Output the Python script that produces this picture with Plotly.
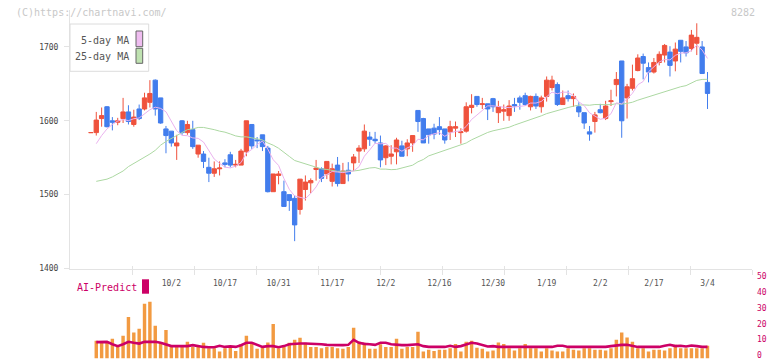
import plotly.graph_objects as go
import pandas as pd

# ---------------- data ----------------
opens = [1584, 1603, 1619, 1600, 1598, 1603, 1612, 1595, 1616, 1616,
         1625, 1655, 1631, 1589, 1586, 1566, 1600, 1584, 1588, 1555,
         1555, 1537, 1529, 1535, 1543, 1554, 1540, 1540, 1558, 1595,
         1574, 1581, 1563, 1504, 1526, 1504, 1500, 1495, 1480, 1507,
         1516, 1534, 1535, 1528, 1518, 1540, 1515, 1533, 1543, 1559,
         1562, 1578, 1575, 1570, 1550, 1552, 1558, 1566, 1562, 1570,
         1614, 1603, 1589, 1590, 1592, 1589, 1585, 1590, 1584, 1586,
         1618, 1633, 1622, 1623, 1630, 1611, 1613, 1607, 1622, 1631,
         1634, 1619, 1633, 1619, 1633, 1645, 1649, 1622, 1634, 1630,
         1619, 1611, 1585, 1599, 1615, 1603, 1626, 1649, 1681, 1631,
         1644, 1668, 1687, 1672, 1666, 1679, 1689, 1693, 1681, 1709,
         1700, 1698, 1705, 1700, 1652]
highs = [1612, 1618, 1620, 1605, 1604, 1631, 1621, 1615, 1622, 1638,
         1655, 1656, 1631, 1593, 1586, 1581, 1601, 1600, 1600, 1567,
         1559, 1550, 1545, 1545, 1548, 1558, 1547, 1562, 1600, 1595,
         1578, 1581, 1566, 1528, 1532, 1519, 1500, 1499, 1521, 1526,
         1522, 1547, 1537, 1545, 1542, 1551, 1543, 1544, 1555, 1567,
         1595, 1585, 1585, 1580, 1567, 1567, 1577, 1573, 1575, 1580,
         1614, 1604, 1589, 1596, 1605, 1589, 1600, 1599, 1590, 1625,
         1636, 1633, 1631, 1623, 1631, 1627, 1622, 1628, 1631, 1634,
         1638, 1634, 1637, 1634, 1660, 1661, 1652, 1641, 1641, 1637,
         1625, 1611, 1593, 1612, 1623, 1627, 1642, 1666, 1681, 1650,
         1676, 1690, 1691, 1679, 1685, 1694, 1704, 1701, 1706, 1709,
         1708, 1723, 1732, 1708, 1666]
lows = [1580, 1592, 1591, 1587, 1594, 1597, 1595, 1592, 1601, 1614,
        1618, 1607, 1596, 1556, 1565, 1547, 1581, 1581, 1562, 1550,
        1536, 1517, 1524, 1526, 1537, 1537, 1537, 1540, 1552, 1562,
        1563, 1559, 1503, 1504, 1514, 1484, 1478, 1437, 1473, 1492,
        1502, 1519, 1517, 1521, 1511, 1511, 1515, 1518, 1532, 1543,
        1558, 1566, 1569, 1537, 1540, 1541, 1541, 1552, 1552, 1558,
        1585, 1570, 1569, 1575, 1581, 1569, 1574, 1578, 1569, 1584,
        1610, 1619, 1616, 1601, 1612, 1597, 1600, 1600, 1612, 1615,
        1620, 1614, 1616, 1611, 1626, 1641, 1620, 1622, 1626, 1619,
        1605, 1589, 1573, 1584, 1610, 1601, 1620, 1633, 1577, 1603,
        1641, 1667, 1656, 1652, 1664, 1675, 1679, 1660, 1667, 1679,
        1687, 1694, 1689, 1664, 1616]
closes = [1601, 1607, 1592, 1598, 1600, 1612, 1599, 1605, 1603, 1631,
          1637, 1616, 1597, 1580, 1570, 1570, 1584, 1595, 1565, 1567,
          1545, 1529, 1535, 1536, 1541, 1540, 1541, 1559, 1600, 1566,
          1573, 1565, 1504, 1528, 1528, 1484, 1492, 1459, 1521, 1517,
          1519, 1536, 1522, 1545, 1535, 1515, 1532, 1528, 1551, 1563,
          1586, 1575, 1573, 1547, 1566, 1555, 1574, 1552, 1570, 1580,
          1599, 1570, 1581, 1582, 1588, 1574, 1592, 1592, 1585, 1619,
          1621, 1622, 1623, 1616, 1619, 1619, 1615, 1620, 1620, 1625,
          1622, 1633, 1620, 1631, 1655, 1655, 1622, 1631, 1630, 1633,
          1612, 1597, 1582, 1608, 1611, 1620, 1627, 1656, 1600, 1646,
          1657, 1685, 1678, 1666, 1679, 1690, 1702, 1675, 1697, 1694,
          1692, 1716, 1713, 1664, 1637]
# flat red tick drawn just left of the first candle
pre_tick = 1584

volume = [11.1, 10.5, 10, 12.4, 7.3, 14.3, 26.2, 16.4, 18.7, 34.4,
          35.7, 20.6, 10, 18, 7.3, 7.3, 7.3, 10.5, 7.3, 7.3,
          9.9, 6.5, 6.5, 4.4, 6.5, 7.3, 4.8, 9, 14.3, 10,
          6.1, 7.3, 10, 21.8, 6.5, 7.3, 9.9, 11.8, 13, 9.9,
          7.3, 7.3, 6.5, 7.3, 7.3, 6.5, 6.1, 7.3, 19.3, 10.5,
          9.9, 6.1, 6.1, 9, 7.3, 7.3, 12.4, 6.1, 7.3, 7.3,
          16.8, 4.4, 5.5, 4.8, 5.5, 5.5, 6.5, 9.2, 4.4, 10.5,
          11.1, 6.7, 6.1, 4.4, 5, 10, 9.2, 6.5, 5, 6.5,
          9.2, 6.5, 6.5, 4.4, 6.5, 5, 4.4, 4.4, 6.5, 5.5,
          5, 6.5, 6.5, 5.5, 5.5, 5, 6.5, 11.8, 16.4, 13.2,
          10.5, 6.5, 6.5, 4.4, 5.5, 5.5, 5, 6.5, 8.6, 6.5,
          6.5, 6.5, 6.5, 6.5, 8]
ai_predict = [10.3, 10.5, 10.5, 9, 7.8, 9, 10.5, 9.9, 9.4, 10.5,
              10.5, 10.5, 9.9, 9, 7.8, 7.8, 7.8, 7.8, 8.4, 7.8,
              7.3, 7.1, 7.1, 8, 7.3, 7.6, 7.3, 8.4, 9.9, 9.9,
              8.6, 7.3, 7.8, 7.8, 7.1, 7.8, 9, 9.4, 9.4, 9.4,
              9.4, 9.4, 9, 8.6, 8.4, 8.4, 8.4, 8.6, 11.8, 9.9,
              9.2, 9, 8.6, 9.9, 9.9, 9, 8.6, 8.4, 8.4, 8.8,
              9, 7.8, 7.3, 7.3, 7.3, 7.3, 8, 7.3, 7.8, 9,
              9.9, 9.4, 8.6, 7.6, 7.8, 7.3, 7.3, 7.3, 7.3, 7.3,
              7.3, 7.3, 7.3, 7.3, 7.3, 7.3, 8, 8, 7.3, 7.3,
              7.3, 7.3, 7.3, 7.3, 7.3, 7.3, 7.8, 8.4, 8.6, 8.6,
              8, 7.3, 7.3, 7.3, 7.3, 7.3, 8, 8.6, 7.8, 8,
              7.6, 8.2, 7.8, 7.3, 7.3]
# moving-average values before enough history is shown
ma5_lead = [1569, 1580, 1589, 1595]
ma25_lead = [1518, 1519, 1521, 1524, 1528, 1532, 1538, 1542, 1547, 1550,
             1555, 1560, 1567, 1572, 1576, 1581, 1585, 1588, 1589, 1591,
             1591, 1590, 1588, 1586]

tick_labels = ['10/2', '10/17', '10/31', '11/17', '12/2', '12/16',
               '12/30', '1/19', '2/2', '2/17', '3/4']
tick_index = [14, 24, 34, 44, 54, 64, 74, 84, 94, 104, 114]
price_ticks = [1400, 1500, 1600, 1700]
vol_ticks = [0, 10, 20, 30, 40, 50]

# ---------------- derived ----------------
n = len(closes)
xs = list(range(n))
s = pd.Series(closes, dtype=float)
ma5 = s.rolling(5).mean().tolist()
ma5[:len(ma5_lead)] = ma5_lead
ma25 = s.rolling(25).mean().tolist()
ma25[:len(ma25_lead)] = ma25_lead

RED = '#ef523d'
BLUE = '#427ded'
FONT = 'DejaVu Sans Mono'
W, H = 772, 361

up = [i for i in xs if closes[i] >= opens[i]]
dn = [i for i in xs if closes[i] < opens[i]]

fig = go.Figure()

fig.add_trace(go.Scatter(x=xs, y=ma25, mode='lines', line=dict(color='#acd8a2', width=1),
                         hoverinfo='skip', showlegend=False))
fig.add_trace(go.Scatter(x=xs, y=ma5, mode='lines', line=dict(color='#eab2ee', width=1),
                         hoverinfo='skip', showlegend=False))


def candle(idx, color):
    return go.Candlestick(
        x=idx,
        open=[opens[i] for i in idx],
        high=[highs[i] for i in idx],
        low=[lows[i] for i in idx],
        close=[closes[i] for i in idx],
        increasing=dict(line=dict(color=color, width=1), fillcolor=color),
        decreasing=dict(line=dict(color=color, width=1), fillcolor=color),
        whiskerwidth=0, showlegend=False, hoverinfo='skip')


fig.add_trace(candle(up, RED))
fig.add_trace(candle(dn, BLUE))
fig.add_trace(go.Candlestick(
    x=[-1], open=[pre_tick], high=[pre_tick], low=[pre_tick], close=[pre_tick],
    increasing=dict(line=dict(color=RED, width=1), fillcolor=RED),
    decreasing=dict(line=dict(color=RED, width=1), fillcolor=RED),
    whiskerwidth=0, showlegend=False, hoverinfo='skip'))

# volume panel
fig.add_trace(go.Bar(x=xs, y=volume, width=0.64, marker=dict(color='#f29a41', line=dict(width=0)),
                     xaxis='x2', yaxis='y2', hoverinfo='skip', showlegend=False))
fig.add_trace(go.Scatter(x=xs, y=ai_predict, mode='lines', line=dict(color='#cc0066', width=2.6),
                         xaxis='x2', yaxis='y2', hoverinfo='skip', showlegend=False))

# invisible helpers so the tick-mark overlay axes are drawn
for ax in ('x3', 'x4'):
    fig.add_trace(go.Scatter(x=[0], y=[1400], xaxis=ax, yaxis='y', mode='markers',
                             marker=dict(opacity=0), hoverinfo='skip', showlegend=False))

xdom = [70 / W, 752 / W]
xrange_ = [-4.9, 122.3]
axis_gray = '#e3e3e3'

fig.update_layout(
    width=W, height=H,
    margin=dict(l=0, r=0, t=0, b=0, autoexpand=False),
    paper_bgcolor='white', plot_bgcolor='white',
    boxgap=0.1, boxgroupgap=0.1,
    hovermode=False,
    xaxis=dict(domain=xdom, range=xrange_, anchor='y', automargin=False,
               tickvals=tick_index, ticktext=tick_labels, ticks='',
               tickfont=dict(family=FONT, size=8, color='#555'),
               ticklabelstandoff=7,
               showline=True, linecolor=axis_gray, linewidth=1,
               showgrid=False, zeroline=False, rangeslider=dict(visible=False)),
    xaxis3=dict(overlaying='x', anchor='y', range=[0, 11], tickvals=list(range(1, 12)),
                automargin=False,
                ticks='outside', ticklen=5, tickcolor=axis_gray, tickwidth=1,
                showticklabels=False, showline=False, showgrid=False, zeroline=False),
    xaxis4=dict(overlaying='x', anchor='y', range=[0, 11], tickvals=list(range(1, 12)),
                automargin=False,
                ticks='inside', ticklen=3, tickcolor=axis_gray, tickwidth=1,
                showticklabels=False, showline=False, showgrid=False, zeroline=False),
    yaxis=dict(domain=[1 - 268.5 / H, 1 - 10 / H], range=[1400, 1750], anchor='x',
               automargin=False,
               tickvals=price_ticks, ticks='outside', ticklen=5, tickcolor=axis_gray,
               tickfont=dict(family=FONT, size=8, color='#444'), ticklabelstandoff=4,
               showline=True, linecolor=axis_gray, linewidth=1,
               showgrid=False, zeroline=False),
    xaxis2=dict(domain=xdom, matches='x', anchor='y2', visible=False, automargin=False),
    yaxis2=dict(domain=[1 - 358.5 / H, 1 - 279.1 / H], range=[0, 50], anchor='x2', side='right',
                automargin=False, ticklabeloverflow='allow', ticklabelshift=-3,
                tickvals=vol_ticks, ticks='', showline=False, showgrid=False, zeroline=False,
                tickfont=dict(family=FONT, size=8, color='#cc0066'), ticklabelstandoff=4),
)


def px_x(v):
    return v / W


def px_y(v):
    return 1 - v / H


shapes = [
    # legend box
    dict(type='rect', xref='paper', yref='paper', x0=px_x(70), x1=px_x(148.7),
         y0=px_y(71.3), y1=px_y(24), line=dict(color='#dcdcdc', width=1), fillcolor='white', layer='above'),
    dict(type='rect', xref='paper', yref='paper', x0=px_x(136), x1=px_x(142.7),
         y0=px_y(46.7), y1=px_y(31), line=dict(color='#666', width=1), fillcolor='#efbdf0', layer='above'),
    dict(type='rect', xref='paper', yref='paper', x0=px_x(136), x1=px_x(142.7),
         y0=px_y(63.3), y1=px_y(48.3), line=dict(color='#666', width=1), fillcolor='#bfe2b1', layer='above'),
    # AI-Predict swatch
    dict(type='rect', xref='paper', yref='paper', x0=px_x(142), x1=px_x(149),
         y0=px_y(293.7), y1=px_y(279.3), line=dict(width=0), fillcolor='#cc0066', layer='above'),
]
fig.update_layout(shapes=shapes)

annotations = [
    dict(text='(C)https://chartnavi.com/', x=px_x(14), y=px_y(12), xanchor='left', yanchor='middle',
         font=dict(family=FONT, size=10, color='#c8c8c8')),
    dict(text='8282', x=px_x(757), y=px_y(12), xanchor='right', yanchor='middle',
         font=dict(family=FONT, size=10, color='#c8c8c8')),
    dict(text='5-day MA', x=px_x(130.5), y=px_y(40.5), xanchor='right', yanchor='middle',
         font=dict(family=FONT, size=10, color='#555')),
    dict(text='25-day MA', x=px_x(130.5), y=px_y(56.5), xanchor='right', yanchor='middle',
         font=dict(family=FONT, size=10, color='#555')),
    dict(text='AI-Predict', x=px_x(75), y=px_y(287), xanchor='left', yanchor='middle',
         font=dict(family=FONT, size=10, color='#cc0066')),
]
for a in annotations:
    a.update(xref='paper', yref='paper', showarrow=False)
fig.update_layout(annotations=annotations)

fig.write_html('out.html', config=dict(displayModeBar=False),
               post_script="document.body.style.margin='0';document.body.style.overflow='hidden';")
